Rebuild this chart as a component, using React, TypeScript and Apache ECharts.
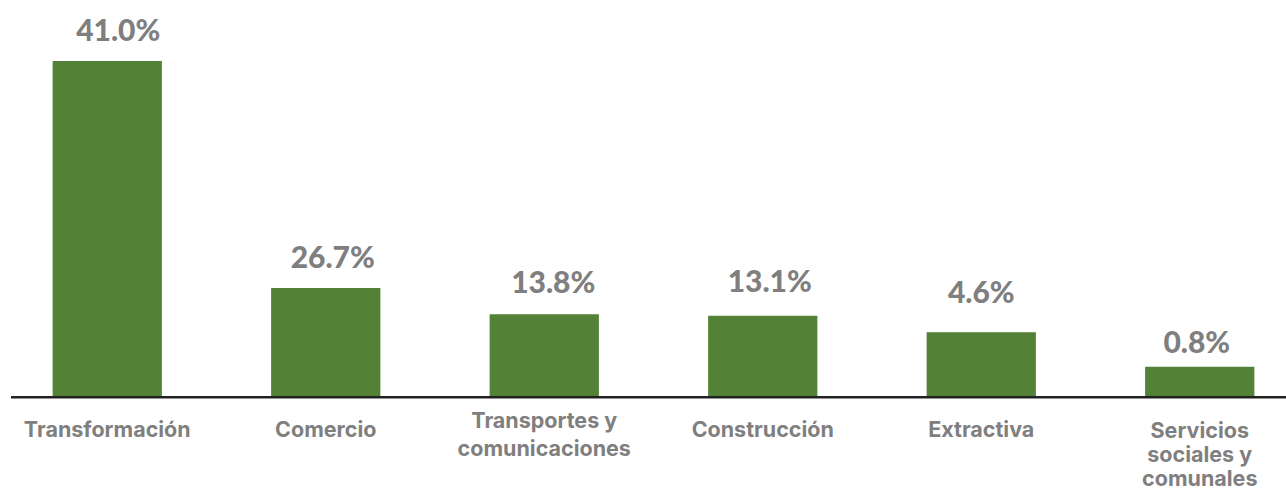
import React, { useEffect, useRef } from "react";
import * as echarts from "echarts";

// Sector categories (x axis)
const categories = [
  "Transformación",
  "Comercio",
  "Transportes y\ncomunicaciones",
  "Construcción",
  "Extractiva",
  "Servicios\nsociales y\ncomunales",
];

// Percentages printed above the bars
const sharePct = [41.0, 26.7, 13.8, 13.1, 4.6, 0.8];

// Bar heights as drawn in the picture (the source chart does not draw them proportionally)
const barHeights = [41.0, 13.3, 10.1, 9.9, 7.9, 3.7];

// Hand-placed label nudges of the source chart (styling only, in px)
const labelNudge: [number, number][] = [
  [11, -1],
  [7, -1],
  [9, -2],
  [7, -5],
  [0, -10],
  [-3, 5],
];

const CAT_FONT = "Inter, 'Noto Sans', sans-serif";
const VAL_FONT = "Lato, 'Noto Sans', sans-serif";
const GREY = "#7f7f7f";
const GREEN = "#538135";

function categoryItem(name: string) {
  const lines = name.split("\n").length;
  if (lines === 2) return { value: name, textStyle: { lineHeight: 28, padding: [-9, 0, 0, 0] } };
  if (lines === 3) return { value: name, textStyle: { lineHeight: 24, padding: [3, 0, 0, 0] } };
  return { value: name };
}

export default function App() {
  const ref = useRef<HTMLDivElement>(null);

  useEffect(() => {
    if (!ref.current) return;
    const chart = echarts.init(ref.current, undefined, { renderer: "svg" });
    chart.setOption({
      animation: false,
      backgroundColor: "#ffffff",
      grid: {
        left: 0,
        right: 0,
        top: 61,
        bottom: 94,
        containLabel: false,
        outerBoundsMode: "none",
      },
      xAxis: {
        type: "category",
        data: categories.map(categoryItem),
        axisLine: { show: false },
        axisTick: { show: false },
        axisLabel: {
          interval: 0,
          margin: 18,
          color: GREY,
          fontFamily: CAT_FONT,
          fontWeight: "bold",
          fontSize: 21.5,
          lineHeight: 28,
          verticalAlign: "top",
        },
      },
      yAxis: {
        type: "value",
        min: 0,
        max: 41,
        show: false,
        splitLine: { show: false },
      },
      series: [
        {
          type: "bar",
          data: barHeights.map((v, i) => ({
            value: v,
            label: { offset: labelNudge[i] },
          })),
          barWidth: "50%",
          itemStyle: { color: GREEN },
          label: {
            show: true,
            position: "top",
            distance: 16,
            color: GREY,
            fontFamily: VAL_FONT,
            fontWeight: 900,
            fontSize: 30,
            formatter: (p: any) => sharePct[p.dataIndex].toFixed(1) + "%",
          },
        },
      ],
      graphic: [
        {
          type: "line",
          shape: { x1: 13, y1: 397.3, x2: 1290, y2: 397.3 },
          style: { stroke: "#222222", lineWidth: 2.6 },
          z: 100,
        },
      ],
    });
    return () => chart.dispose();
  }, []);

  return (
    <div
      style={{
        position: "fixed",
        left: 0,
        top: 0,
        width: 1286,
        height: 491,
        overflow: "hidden",
        background: "#fff",
      }}
    >
      <div ref={ref} style={{ position: "absolute", left: -2, top: 0, width: 1311, height: 491 }} />
    </div>
  );
}
